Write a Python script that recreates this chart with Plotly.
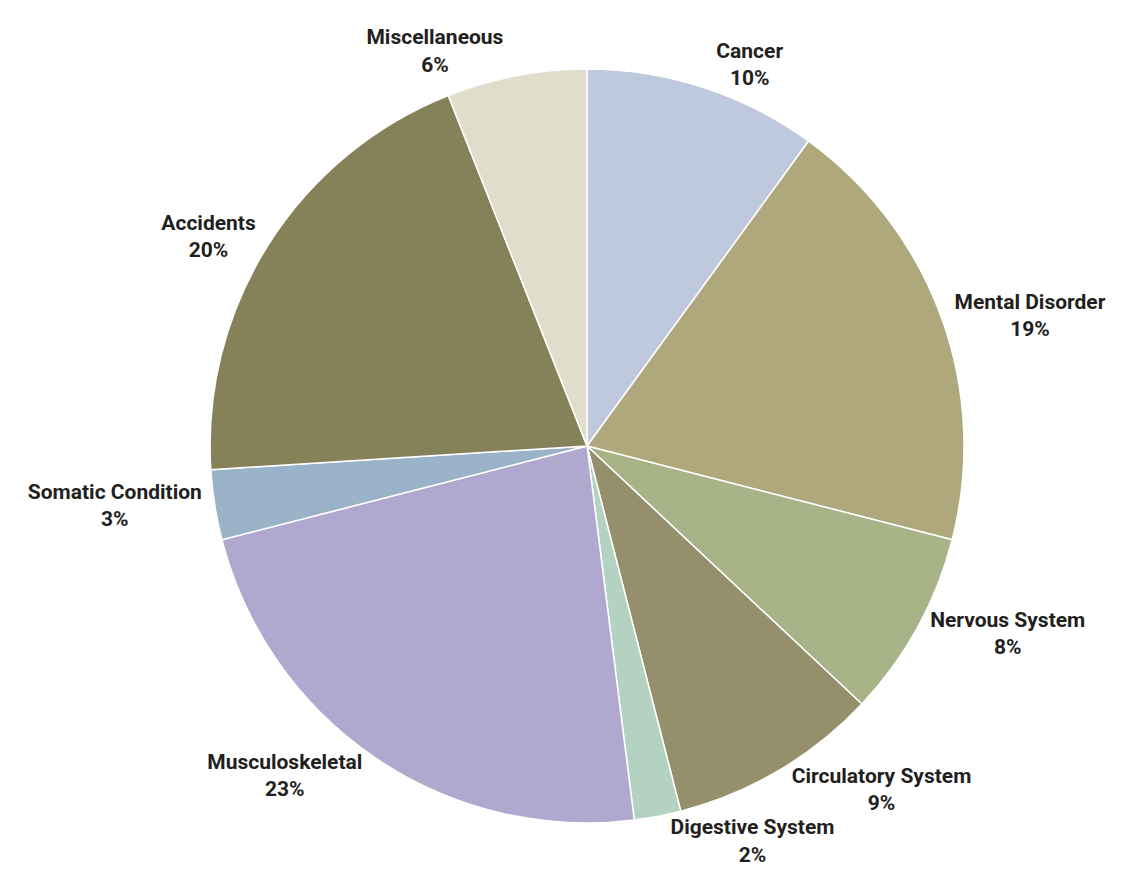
import plotly.graph_objects as go

categories = ["Cancer", "Mental Disorder", "Nervous System", "Circulatory System",
              "Digestive System", "Musculoskeletal", "Somatic Condition",
              "Accidents", "Miscellaneous"]
values = [10, 19, 8, 9, 2, 23, 3, 20, 6]
colors = ["#BFC9DE", "#B0A87D", "#A9B388", "#95906B", "#B3D2C1",
          "#B0A8CE", "#9AB3C9", "#858159", "#E0DDCA"]

fig = go.Figure(go.Pie(
    labels=categories,
    values=values,
    sort=False,
    direction="clockwise",
    rotation=0,
    marker=dict(colors=colors, line=dict(color="white", width=1.5)),
    textposition="outside",
    texttemplate="<b>%{label}</b><br><b>%{value}%</b>",
    textfont=dict(family="Roboto, Open Sans, sans-serif", size=21, color="#231F20"),
    hoverinfo="label+percent",
    domain=dict(x=[0.1787, 0.8507], y=[0.0853, 0.9315]),
    showlegend=False,
))

fig.update_layout(
    width=1125, height=891,
    margin=dict(l=0, r=0, t=0, b=0),
    paper_bgcolor="white",
    plot_bgcolor="white",
    showlegend=False,
)

fig.write_html("out.html")
